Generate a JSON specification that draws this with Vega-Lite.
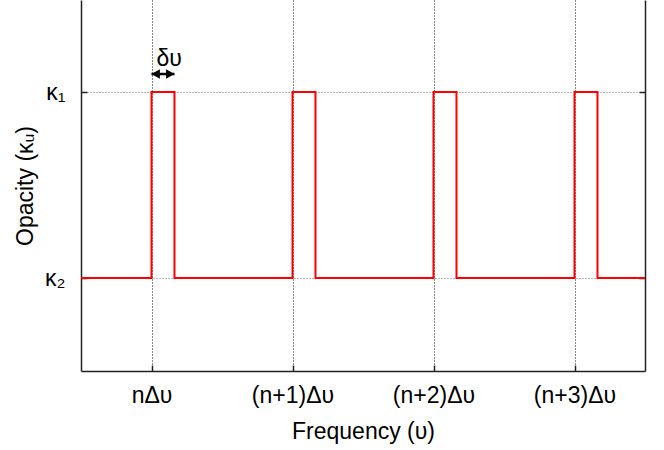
{
  "$schema": "https://vega.github.io/schema/vega-lite/v6.json",
  "width": 564,
  "height": 371,
  "autosize": {"type": "none"},
  "padding": {"left": 81, "top": 0, "right": 19, "bottom": 79},
  "background": "white",
  "config": {
    "view": {"stroke": null},
    "font": "Liberation Sans",
    "axis": {
      "labelFont": "Liberation Sans",
      "titleFont": "Liberation Sans",
      "labelFontSize": 23,
      "titleFontSize": 23,
      "titleFontWeight": "normal",
      "labelColor": "black",
      "titleColor": "black",
      "domainColor": "#222",
      "domainWidth": 1.5,
      "tickColor": "#222",
      "tickWidth": 1.5,
      "gridColor": "#444",
      "gridDash": [1, 2],
      "gridWidth": 1,
      "gridOpacity": 1
    }
  },
  "datasets": {
    "spectrum": [
      {"i": 0, "freq": -0.5, "kappa": 0},
      {"i": 1, "freq": 0, "kappa": 0},
      {"i": 2, "freq": 0, "kappa": 1},
      {"i": 3, "freq": 0.163, "kappa": 1},
      {"i": 4, "freq": 0.163, "kappa": 0},
      {"i": 5, "freq": 1, "kappa": 0},
      {"i": 6, "freq": 1, "kappa": 1},
      {"i": 7, "freq": 1.163, "kappa": 1},
      {"i": 8, "freq": 1.163, "kappa": 0},
      {"i": 9, "freq": 2, "kappa": 0},
      {"i": 10, "freq": 2, "kappa": 1},
      {"i": 11, "freq": 2.163, "kappa": 1},
      {"i": 12, "freq": 2.163, "kappa": 0},
      {"i": 13, "freq": 3, "kappa": 0},
      {"i": 14, "freq": 3, "kappa": 1},
      {"i": 15, "freq": 3.163, "kappa": 1},
      {"i": 16, "freq": 3.163, "kappa": 0},
      {"i": 17, "freq": 3.5, "kappa": 0}
    ],
    "arrow": [{"x": 0, "x2": 0.163, "y": 1.097}],
    "heads": [
      {"x": 0, "y": 1.097, "dir": "left"},
      {"x": 0.163, "y": 1.097, "dir": "right"}
    ],
    "note": [{"x": 0.125, "y": 1.18, "label": "δυ"}]
  },
  "layer": [
    {
      "data": {"name": "spectrum"},
      "mark": {"type": "line", "color": "#ff0000", "strokeWidth": 2, "strokeJoin": "miter", "interpolate": "linear"},
      "encoding": {
        "x": {
          "field": "freq", "type": "quantitative",
          "scale": {"domain": [-0.5, 3.5], "nice": false, "zero": false},
          "axis": {
            "title": "Frequency (υ)",
            "values": [0, 1, 2, 3],
            "labelExpr": "datum.value == 0 ? 'nΔυ' : '(n+' + datum.value + ')Δυ'",
            "grid": true,
            "gridColor": "#111",
            "tickSize": -6,
            "labelPadding": 19,
            "titlePadding": 13
          }
        },
        "y": {
          "field": "kappa", "type": "quantitative",
          "scale": {"domain": [-0.5, 1.495], "nice": false, "zero": false},
          "axis": {
            "title": "Opacity (κᵤ)",
            "values": [0, 1],
            "labelExpr": "datum.value == 1 ? 'κ₁' : 'κ₂'",
            "grid": true,
            "gridColor": "#777",
            "tickSize": -6,
            "labelPadding": 22,
            "titlePadding": 7
          }
        },
        "order": {"field": "i", "type": "quantitative"}
      }
    },
    {
      "data": {"name": "arrow"},
      "mark": {"type": "rule", "color": "black", "strokeWidth": 2.5},
      "encoding": {
        "x": {"field": "x", "type": "quantitative"},
        "x2": {"field": "x2"},
        "y": {"field": "y", "type": "quantitative", "axis": {"orient": "right", "title": null, "labels": false, "grid": false, "values": [0, 1], "tickSize": -6}}
      }
    },
    {
      "data": {"name": "heads"},
      "mark": {"type": "point", "filled": true, "color": "black", "opacity": 1, "size": 110},
      "encoding": {
        "x": {"field": "x", "type": "quantitative"},
        "y": {"field": "y", "type": "quantitative", "axis": null},
        "shape": {
          "field": "dir", "type": "nominal", "legend": null,
          "scale": {"domain": ["left", "right"], "range": ["M 0 0 L 1.6 -0.9 L 1.6 0.9 Z", "M 0 0 L -1.6 -0.9 L -1.6 0.9 Z"]}
        }
      }
    },
    {
      "data": {"name": "note"},
      "mark": {"type": "text", "font": "Liberation Sans", "fontSize": 23, "color": "black"},
      "encoding": {
        "x": {"field": "x", "type": "quantitative"},
        "y": {"field": "y", "type": "quantitative", "axis": null},
        "text": {"field": "label"}
      }
    }
  ],
  "resolve": {"axis": {"y": "independent"}}
}
